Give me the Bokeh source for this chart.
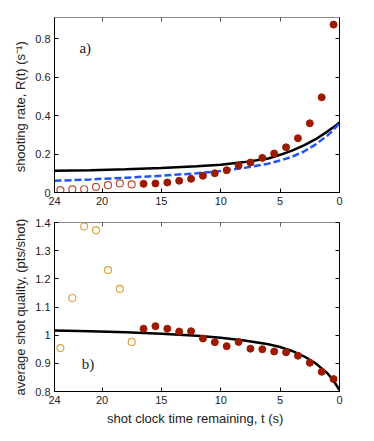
from bokeh.plotting import figure
from bokeh.layouts import column
from bokeh.models import Range1d, LinearAxis, FixedTicker, Label
from bokeh.embed import file_html
from bokeh.resources import INLINE

# ---- data ----
t_open = [23.5, 22.5, 21.5, 20.5, 19.5, 18.5, 17.5]
t_filled = [16.5, 15.5, 14.5, 13.5, 12.5, 11.5, 10.5, 9.5, 8.5, 7.5, 6.5, 5.5, 4.5, 3.5, 2.5, 1.5, 0.5]

rate_open = [0.012, 0.016, 0.017, 0.029, 0.038, 0.047, 0.042]
rate_filled = [0.045, 0.047, 0.052, 0.061, 0.071, 0.087, 0.100, 0.116, 0.140, 0.156,
               0.180, 0.203, 0.235, 0.282, 0.360, 0.495, 0.873]

quality_open = [0.954, 1.132, 1.386, 1.373, 1.231, 1.164, 0.976]
quality_filled = [1.023, 1.032, 1.023, 1.013, 1.014, 0.988, 0.975, 0.961, 0.976, 0.952,
                  0.950, 0.942, 0.939, 0.927, 0.902, 0.870, 0.844]

t_curve = [24, 21, 18, 15, 12, 10, 8, 6, 5, 4, 3, 2, 1, 0.5, 0]
rate_model_black = [0.113, 0.116, 0.121, 0.127, 0.137, 0.144, 0.158, 0.177, 0.196, 0.218,
                    0.245, 0.277, 0.318, 0.340, 0.364]
rate_model_blue = [0.061, 0.068, 0.077, 0.087, 0.100, 0.112, 0.128, 0.150, 0.166, 0.186,
                   0.213, 0.250, 0.297, 0.326, 0.360]
quality_model = [1.017, 1.014, 1.010, 1.005, 0.998, 0.991, 0.981, 0.968, 0.958, 0.944,
                 0.925, 0.900, 0.864, 0.838, 0.805]

x_ticks = [24, 20, 15, 10, 5, 0]
y1_ticks = [0, 0.2, 0.4, 0.6, 0.8]
y2_ticks = [0.8, 0.9, 1.0, 1.1, 1.2, 1.3, 1.4]

FONT = "Liberation Sans"
DARK_RED = "#9c1a00"
OPEN_RED = "#c04a34"
OPEN_GOLD = "#d9a441"
BLUE = "#2255f0"


def style(p, yticks, overrides):
    for ax in p.xaxis:
        ax.ticker = FixedTicker(ticks=x_ticks)
    for ax in p.yaxis:
        ax.ticker = FixedTicker(ticks=yticks)
        ax.major_label_overrides = overrides
    for ax in p.axis:
        ax.major_tick_in = 4
        ax.major_tick_out = 0
        ax.minor_tick_line_color = None
        ax.major_label_text_font = FONT
        ax.major_label_text_font_size = "11px"
        ax.major_label_text_color = "#222222"
        ax.axis_line_color = "black"
        ax.major_tick_line_color = "black"
        ax.axis_label_text_font = FONT
        ax.axis_label_text_font_style = "normal"
        ax.axis_label_text_font_size = "13px"
        ax.axis_label_text_color = "#222222"
        ax.major_label_standoff = 4
        ax.axis_label_standoff = 4
    top = LinearAxis(ticker=FixedTicker(ticks=x_ticks), major_tick_in=4, major_tick_out=0,
                     minor_tick_line_color=None, major_label_text_font_size="1px",
                     major_label_text_color=None,
                     axis_line_color="#8a8a8a", major_tick_line_color="#555555",
                     major_label_standoff=0)
    right = LinearAxis(ticker=FixedTicker(ticks=yticks), major_tick_in=4, major_tick_out=0,
                       minor_tick_line_color=None, major_label_text_font_size="1px",
                       major_label_text_color=None,
                       axis_line_color="black", major_tick_line_color="black",
                       major_label_standoff=0)
    p.add_layout(top, "above")
    p.add_layout(right, "right")
    p.xgrid.grid_line_color = None
    p.ygrid.grid_line_color = None
    p.outline_line_color = None
    p.background_fill_color = "white"
    p.border_fill_color = "white"


# ---- top panel: shooting rate ----
p1 = figure(width=374, height=218, x_range=Range1d(24, 0), y_range=Range1d(0, 0.91),
            output_backend="svg", toolbar_location=None,
            min_border_left=54, min_border_right=35, min_border_top=17, min_border_bottom=26)
p1.yaxis.axis_label = "shooting rate, R(t)  (s\u207b\u00b9)"
style(p1, y1_ticks, {0: "0"})

p1.line(t_curve, rate_model_black, line_color="black", line_width=2.5)
p1.line(t_curve, rate_model_blue, line_color=BLUE, line_width=2.5, line_dash="7 3")
p1.scatter(t_open, rate_open, size=7, marker="circle", fill_color=None,
           line_color=OPEN_RED, line_width=1.2)
p1.scatter(t_filled, rate_filled, size=7, marker="circle", fill_color=DARK_RED,
           line_color=DARK_RED)
p1.add_layout(Label(x=21.9, y=0.75, text="a)", text_font="Liberation Serif",
                    text_font_size="15px", text_baseline="middle", text_align="left",
                    text_color="#222222"))

# ---- bottom panel: shot quality ----
p2 = figure(width=374, height=223, x_range=Range1d(24, 0), y_range=Range1d(0.8, 1.4),
            output_backend="svg", toolbar_location=None,
            min_border_left=54, min_border_right=35, min_border_top=4, min_border_bottom=50)
p2.yaxis.axis_label = "average shot quality, (pts/shot)"
p2.xaxis.axis_label = "shot clock time remaining, t  (s)"
style(p2, y2_ticks, {1: "1", 1.0: "1"})

p2.line(t_curve, quality_model, line_color="black", line_width=2.5)
p2.scatter(t_open, quality_open, size=7, marker="circle", fill_color=None,
           line_color=OPEN_GOLD, line_width=1.2)
p2.scatter(t_filled, quality_filled, size=7, marker="circle", fill_color=DARK_RED,
           line_color=DARK_RED)
p2.add_layout(Label(x=21.7, y=0.898, text="b)", text_font="Liberation Serif",
                    text_font_size="15px", text_baseline="middle", text_align="left",
                    text_color="#222222"))

layout = column(p1, p2, spacing=0)
open("out.html", "w").write(file_html(layout, INLINE))
